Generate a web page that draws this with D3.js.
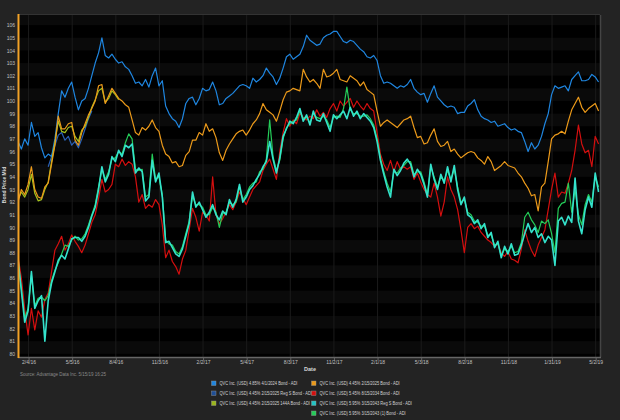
<!DOCTYPE html>
<html>
<head>
<meta charset="utf-8">
<script src="https://cdn.jsdelivr.net/npm/d3@7"></script>
<style>
  html, body { margin: 0; padding: 0; background: #232323; }
  svg { display: block; }
</style>
</head>
<body>
<div id="chart"></div>
<script>
// weekly prices, first point on 1/13/16
const START = '2016-01-13';
const X_END = '2019-05-11';
const Y_TICKS = d3.range(80, 107);
const X_TICKS = ['2/4/16', '5/5/16', '8/4/16', '11/3/16', '2/2/17', '5/4/17', '8/3/17',
  '11/2/17', '2/1/18', '5/3/18', '8/2/18', '11/1/18', '1/31/19', '5/2/19'];

const blue = [96.8, 96.2, 97.0, 96.5, 98.3, 97.2, 97.5, 96.3, 95.5, 95.8,
  95.6, 97.0, 99.0, 100.8, 100.3, 101.0, 101.5, 100.3, 99.3, 100.0,
  100.2, 101.0, 102.0, 103.0, 103.8, 105.0, 103.6, 103.4, 103.7, 103.3,
  103.0, 103.1, 102.7, 102.5, 102.0, 101.4, 101.5, 101.2, 101.7, 101.1,
  102.0, 102.6, 101.2, 101.6, 99.6, 99.0, 98.6, 98.4, 97.9, 98.6,
  99.8, 100.2, 100.3, 99.7, 100.2, 101.0, 100.8, 100.9, 101.5, 100.8,
  99.7, 99.8, 100.2, 100.4, 100.6, 100.9, 101.2, 101.3, 101.2, 101.0,
  101.8, 101.5, 101.7, 102.0, 102.6, 102.2, 101.9, 101.3, 101.8, 102.6,
  103.5, 103.7, 103.3, 103.5, 103.7, 104.3, 105.2, 104.8, 104.6, 104.4,
  104.5, 105.0, 105.2, 105.3, 105.5, 105.5, 105.1, 104.7, 104.6, 104.8,
  104.7, 104.4, 104.1, 103.9, 103.5, 103.4, 103.6, 103.2, 102.0, 101.4,
  101.5, 101.4, 101.2, 101.0, 101.2, 101.1, 101.3, 101.7, 101.0, 100.7,
  100.5, 100.6, 99.9, 100.6, 101.2, 100.3, 100.0, 99.7, 99.5, 99.6,
  99.5, 99.0, 99.1, 99.1, 99.6, 99.8, 100.1, 99.3, 98.8, 98.6,
  98.5, 98.3, 98.4, 98.0, 98.1, 98.2, 97.9, 97.7, 97.8, 97.6,
  97.5, 96.8, 96.0, 96.7, 96.2, 96.5, 97.2, 98.2, 99.0, 100.5,
  101.2, 101.0, 101.1, 101.2, 100.8, 101.7, 102.0, 102.3, 101.6, 101.6,
  101.7, 102.1, 101.9, 101.5];

// only shows in spring 2016, starts at week 9
const darkBlueFrom = 9;
const darkBlue = [94.8, 95.6, 96.5, 97.3, 97.5, 96.9, 97.2, 96.5, 96.8, 96.3, 97.0, 97.8, 98.6, 99.2];

const orange = [92.0, 93.0, 92.6, 93.4, 94.8, 93.0, 92.4, 92.3, 93.2, 93.5,
  95.0, 96.5, 98.8, 97.8, 97.8, 98.2, 98.3, 96.9, 96.5, 97.5,
  98.2, 98.9, 99.4, 100.0, 101.2, 101.3, 99.8, 100.4, 101.0, 100.6,
  100.2, 100.0, 99.7, 99.5, 98.5, 97.5, 97.3, 97.9, 97.7, 98.0,
  98.5, 97.9, 97.6, 96.5, 95.8, 95.6, 95.1, 95.2, 94.8, 94.9,
  95.7, 96.0, 96.9, 96.9, 97.5, 97.3, 98.2, 97.6, 97.8, 97.1,
  95.9, 95.3, 96.1, 96.6, 97.0, 97.4, 97.6, 97.7, 97.3, 97.7,
  98.2, 98.5, 99.0, 99.8, 99.3, 99.1, 98.9, 98.4, 99.2, 100.1,
  100.7, 100.8, 101.0, 100.9, 100.8, 102.5, 101.9, 101.5, 101.7, 101.4,
  101.0, 102.5, 101.9, 102.0, 102.2, 102.5, 101.7, 101.6, 101.5, 102.0,
  101.8, 101.6, 101.2, 101.5, 100.9, 100.7, 100.5, 99.2, 98.0, 98.3,
  98.5, 98.3, 98.1, 97.9, 98.2, 98.5, 98.6, 98.8, 97.9, 97.1,
  97.2, 96.6, 96.7, 97.3, 97.8, 96.8, 96.4, 96.5, 96.8, 96.0,
  96.2, 95.8, 95.5, 95.7, 95.9, 96.0, 95.9, 95.5, 95.3, 95.0,
  95.6, 95.2, 94.5, 94.7, 94.9, 95.2, 94.9, 94.8, 94.7, 94.3,
  94.0, 93.5, 93.1, 92.5, 92.6, 91.3, 93.2, 93.5, 95.2, 97.0,
  97.3, 97.4, 97.6, 97.4, 98.4, 99.3, 99.8, 100.3, 99.5, 99.1,
  99.4, 99.6, 99.8, 99.2];

const yellowGreenFrom = 0;
const yellowGreen = [92.2, 92.8, 92.4, 93.0, 94.2, 92.7, 92.1, 92.2, 93.0, 93.6,
  95.2, 96.7, 98.4, 97.6, 97.5, 97.9, 98.0, 97.2, 96.8, 97.7,
  98.0, 98.7, 99.5, 100.1, 100.8, 101.0, 99.9, 100.2, 100.8, 100.5,
  100.1];

const red = [87.7, 86.0, 83.5, 81.5, 83.6, 81.9, 83.4, 82.9, 84.3, 84.8,
  86.5, 88.2, 88.7, 89.3, 88.2, 88.7, 89.4, 88.9, 88.5, 88.0,
  88.6, 89.5, 90.4, 91.0, 92.3, 93.8, 92.8, 93.0, 93.4, 95.0,
  94.8, 95.4, 94.9, 95.2, 95.0, 94.0, 92.0, 92.6, 91.5, 91.8,
  91.6, 92.2, 91.8, 90.2, 87.6, 88.2, 87.3, 86.9, 86.3, 87.5,
  88.2, 89.8, 91.5, 90.8, 89.7, 91.2, 91.0, 90.5, 94.0, 91.0,
  90.3, 90.7, 91.2, 91.8, 91.4, 92.0, 92.8, 92.3, 91.8, 92.4,
  93.0, 93.3, 93.6, 94.5, 95.0, 95.4, 94.6, 93.8, 96.0, 97.5,
  98.6, 98.0, 98.5, 98.2, 99.0, 98.7, 98.5, 98.8, 98.6, 99.3,
  98.8, 99.1, 98.7, 99.4, 99.8, 99.2, 100.0, 99.6, 99.9, 100.2,
  99.5, 100.0, 99.6, 99.3, 99.8, 99.4, 99.2, 97.5, 95.8, 95.0,
  94.5, 95.3, 94.4, 95.2, 94.6, 94.8, 94.6, 94.8, 93.8, 94.3,
  93.6, 93.0, 92.6, 92.4, 93.5, 92.4, 90.9, 92.0, 94.0, 93.0,
  92.4, 91.4, 89.8, 88.0, 90.0, 90.3, 89.9, 90.1, 89.6, 89.3,
  89.0, 88.8, 88.5, 88.7, 88.0, 87.7, 88.1, 87.5, 87.4, 87.2,
  88.3, 89.8, 88.9, 88.2, 87.7, 88.6, 89.2, 89.8, 91.4, 93.0,
  94.3, 92.4, 92.8, 92.7, 93.5, 94.5, 96.1, 98.1, 96.6, 95.9,
  96.1, 94.8, 97.2, 96.6];

const cyan = [87.5, 85.0, 82.5, 83.4, 86.5, 83.6, 84.2, 84.6, 81.0, 84.2,
  85.6, 86.5, 87.4, 87.8, 87.5, 88.3, 89.1, 89.2, 89.2, 88.9,
  89.3, 90.0, 90.9, 91.6, 93.0, 94.8, 93.6, 94.2, 95.6, 95.2,
  96.1, 95.6, 96.5, 96.3, 96.6, 94.3, 94.7, 94.4, 92.1, 92.4,
  95.3, 93.6, 94.3, 92.4, 88.8, 88.9, 88.4, 87.9, 87.7, 88.3,
  89.3, 90.3, 92.8, 91.6, 92.0, 91.4, 90.8, 91.2, 91.8, 91.0,
  90.6, 91.3, 91.0, 92.2, 91.6, 92.2, 93.4, 92.0, 92.4, 93.0,
  93.3, 93.8, 94.2, 94.8, 95.2, 96.8, 95.4, 94.3, 95.5, 97.2,
  97.8, 98.4, 98.2, 98.7, 99.4, 98.4, 98.9, 98.1, 99.2, 98.5,
  98.4, 99.0, 98.3, 97.6, 98.9, 98.6, 98.9, 99.2, 98.6, 99.5,
  98.8, 99.2, 98.6, 99.0, 98.7, 98.4, 97.9, 96.8, 95.3, 94.2,
  93.2, 92.4, 94.6, 94.1, 94.5, 95.1, 95.4, 95.0, 94.0, 94.6,
  94.2, 93.4, 92.4, 95.0, 93.8, 93.0, 94.2, 93.5, 94.8, 93.6,
  94.9, 93.0, 91.8, 92.4, 91.0, 90.8, 90.3, 90.6, 89.9, 90.3,
  89.2, 89.6, 88.4, 88.9, 87.6, 88.5, 87.9, 88.7, 87.8, 87.9,
  88.6, 89.5, 90.3, 89.6, 90.0, 89.2, 89.5, 88.8, 89.3, 89.0,
  87.0, 90.5, 90.8, 90.2, 90.9, 90.4, 93.9, 90.5, 89.5, 91.4,
  92.4, 91.6, 94.3, 92.8];

const green = [87.3, 85.2, 82.8, 83.6, 86.2, 83.8, 84.4, 84.5, 84.2, 84.6,
  85.8, 86.6, 87.2, 87.9, 88.6, 88.5, 89.0, 89.3, 89.0, 89.1,
  89.5, 90.2, 91.0, 91.8, 93.2, 94.6, 93.8, 94.4, 95.4, 95.5,
  96.0, 95.8, 96.7, 97.4, 97.0, 94.6, 94.5, 94.6, 92.4, 92.6,
  95.8, 93.8, 94.0, 92.6, 89.0, 88.7, 88.6, 88.1, 87.9, 88.5,
  89.5, 90.5, 92.5, 91.8, 91.8, 91.6, 91.0, 91.0, 91.6, 91.2,
  90.0, 91.1, 91.2, 92.0, 91.8, 92.0, 93.2, 92.2, 92.6, 93.2,
  93.5, 93.6, 94.4, 94.6, 95.4, 98.5, 95.6, 94.5, 95.3, 97.0,
  97.9, 98.2, 98.4, 98.5, 99.2, 98.6, 98.7, 98.3, 99.0, 98.7,
  98.6, 98.8, 98.5, 97.9, 98.7, 98.8, 98.7, 99.4, 101.1, 99.3,
  99.0, 99.0, 98.8, 98.8, 98.9, 98.6, 98.1, 97.0, 95.5, 94.4,
  93.5, 92.8, 94.4, 94.3, 94.7, 94.9, 95.2, 95.2, 94.2, 94.4,
  94.4, 93.6, 92.6, 94.8, 94.0, 93.2, 94.0, 93.7, 94.5, 93.8,
  94.6, 93.2, 92.0, 92.2, 91.2, 91.0, 90.5, 90.4, 90.1, 90.1,
  89.4, 89.4, 88.6, 88.7, 87.8, 88.3, 88.1, 88.5, 88.0, 88.1,
  88.8, 90.8, 91.2, 90.6, 90.2, 89.6, 90.5, 90.3, 90.6, 89.5,
  88.0, 91.5, 91.9, 92.0, 93.5, 91.2, 93.0, 91.0, 90.2, 91.8,
  92.6, 92.0, 94.0, 93.2];

const SERIES = [
  { name: 'QVC Inc. (USD) 4.45% 2/15/2025 Reg S Bond - ADI', color: '#2a62b8', key: '#1f4f96', values: darkBlue, from: darkBlueFrom },
  { name: 'QVC Inc. (USD) 4.85% 4/1/2024 Bond - ADI', color: '#1f86e0', key: '#1f86e0', values: blue, from: 0 },
  { name: 'QVC Inc. (USD) 4.45% 2/15/2025 144A Bond - ADI', color: '#a4c21e', key: '#9bb61c', values: yellowGreen, from: yellowGreenFrom },
  { name: 'QVC Inc. (USD) 4.45% 2/15/2025 Bond - ADI', color: '#ec9a1a', key: '#ec9a1a', values: orange, from: 0 },
  { name: 'QVC Inc. (USD) 5.45% 8/15/2034 Bond - ADI', color: '#d40f0f', key: '#d40f0f', values: red, from: 0 },
  { name: 'QVC Inc. (USD) 5.95% 3/15/2043 (1) Bond - ADI', color: '#24cc58', key: '#24cc58', values: green, from: 0 },
  { name: 'QVC Inc. (USD) 5.95% 3/15/2043 Reg S Bond - ADI', color: '#34e2cc', key: '#22c4c4', values: cyan, from: 0 },
];
// legend layout order (two columns, as in the source)
const LEGEND_LEFT = [1, 0, 2];
const LEGEND_RIGHT = [3, 4, 6, 5];

const W = 620, H = 420;
const PLOT = { left: 18, right: 600, top: 15, bottom: 357 };
const FONT = '"Liberation Sans", Arial, sans-serif';

const parseTick = d3.timeParse('%m/%d/%y');
const start = d3.timeParse('%Y-%m-%d')(START);

const svg = d3.select('#chart').append('svg').attr('width', W).attr('height', H);
svg.append('rect').attr('width', W).attr('height', H).attr('fill', '#232323');

const x = d3.scaleTime()
  .domain([start, d3.timeParse('%Y-%m-%d')(X_END)])
  .range([PLOT.left, PLOT.right]);
const y = d3.scaleLinear()
  .domain([79.75, 106.8])
  .range([PLOT.bottom, PLOT.top]);

svg.append('defs').append('clipPath').attr('id', 'plot-clip')
  .append('rect')
  .attr('x', PLOT.left).attr('y', PLOT.top)
  .attr('width', PLOT.right - PLOT.left).attr('height', PLOT.bottom - PLOT.top);

// plot background, a lighter band every other unit
svg.append('rect')
  .attr('x', PLOT.left).attr('y', PLOT.top)
  .attr('width', PLOT.right - PLOT.left).attr('height', PLOT.bottom - PLOT.top)
  .attr('fill', '#000');
const bands = svg.append('g').attr('clip-path', 'url(#plot-clip)');
bands.selectAll('rect')
  .data(d3.range(78, 108).filter((v) => v % 2 === 0))
  .join('rect')
  .attr('x', PLOT.left)
  .attr('width', PLOT.right - PLOT.left)
  .attr('y', (d) => y(d + 1))
  .attr('height', (d) => y(d) - y(d + 1))
  .attr('fill', '#0a0a0a');

const tickDates = X_TICKS.map(parseTick);
svg.append('g').selectAll('line')
  .data(tickDates)
  .join('line')
  .attr('x1', (d) => x(d)).attr('x2', (d) => x(d))
  .attr('y1', PLOT.top).attr('y2', PLOT.bottom)
  .attr('stroke', '#1b1b1b')
  .attr('stroke-width', 1);

// lines
const linesG = svg.append('g').attr('clip-path', 'url(#plot-clip)');
SERIES.forEach((s) => {
  const pts = s.values.map((v, i) => ({ date: d3.timeDay.offset(start, 7 * (i + s.from)), value: v }));
  const line = d3.line()
    .defined((d) => d.value != null)
    .x((d) => x(d.date))
    .y((d) => y(d.value));
  linesG.append('path')
    .datum(pts)
    .attr('fill', 'none')
    .attr('stroke', s.color)
    .attr('stroke-width', s.values === cyan ? 1.6 : 1.2)
    .attr('stroke-linejoin', 'round')
    .attr('d', line);
});

// frame
svg.append('line')
  .attr('x1', PLOT.left).attr('x2', PLOT.right)
  .attr('y1', PLOT.top - 0.5).attr('y2', PLOT.top - 0.5)
  .attr('stroke', '#333');
svg.append('line')
  .attr('x1', PLOT.right + 0.5).attr('x2', PLOT.right + 0.5)
  .attr('y1', PLOT.top).attr('y2', PLOT.bottom)
  .attr('stroke', '#444').attr('stroke-width', 1.5);

// x axis
const xAxis = d3.axisBottom(x)
  .tickValues(tickDates)
  .tickSize(3)
  .tickFormat((d, i) => X_TICKS[i]);
const xAxisG = svg.append('g')
  .attr('transform', `translate(0,${PLOT.bottom + 0.5})`)
  .call(xAxis);
xAxisG.select('.domain').attr('stroke', '#666').attr('stroke-width', 1.6)
  .attr('d', `M${PLOT.left},0H${PLOT.right + 1}`);
xAxisG.selectAll('.tick line').attr('stroke', '#666');
xAxisG.selectAll('text')
  .attr('fill', '#c0c0c0')
  .attr('font-family', FONT)
  .attr('font-size', '5px')
  .attr('dy', '0.3em')
  .attr('y', 5);

// y axis
const yAxis = d3.axisLeft(y).tickValues(Y_TICKS).tickSize(0).tickPadding(3);
const yAxisG = svg.append('g')
  .attr('transform', `translate(${PLOT.left},0)`)
  .call(yAxis);
yAxisG.select('.domain').remove();
yAxisG.selectAll('text')
  .attr('fill', '#c0c0c0')
  .attr('font-family', FONT)
  .attr('font-size', '5px');

// left edge marker
svg.append('line')
  .attr('x1', PLOT.left + 0.5).attr('x2', PLOT.left + 0.5)
  .attr('y1', PLOT.top - 1).attr('y2', PLOT.bottom + 1)
  .attr('stroke', '#f2a227').attr('stroke-width', 2);

svg.append('text')
  .attr('transform', `translate(5.5,185) rotate(-90)`)
  .attr('text-anchor', 'middle')
  .attr('fill', '#d8d8d8')
  .attr('font-family', FONT)
  .attr('font-size', '5px')
  .attr('font-weight', 'bold')
  .text('Bond Price Mid');

svg.append('text')
  .attr('x', 310).attr('y', 371)
  .attr('text-anchor', 'middle')
  .attr('fill', '#d8d8d8')
  .attr('font-family', FONT)
  .attr('font-size', '5.5px')
  .attr('font-weight', 'bold')
  .text('Date');

svg.append('text')
  .attr('x', 20).attr('y', 376)
  .attr('fill', '#8a8a8a')
  .attr('font-family', FONT)
  .attr('font-size', '4.5px')
  .text('Source: Advantage Data Inc. 5/15/19 16:25');

// legend, text a bit condensed like the source font
function drawLegend(idx, x0) {
  const g = svg.append('g');
  const rows = g.selectAll('g')
    .data(idx.map((k) => SERIES[k]))
    .join('g')
    .attr('transform', (d, i) => `translate(${x0},${381 + i * 10})`);
  rows.append('rect')
    .attr('width', 4.5).attr('height', 4.5)
    .attr('fill', (d) => d.key)
    .attr('stroke', '#9a9a9a').attr('stroke-width', 0.4);
  rows.append('text')
    .attr('x', 8).attr('y', 4)
    .attr('fill', '#d4d4d4')
    .attr('font-family', FONT)
    .attr('font-size', '4.6px')
    .text((d) => d.name)
    .each(function () {
      const len = this.getComputedTextLength();
      d3.select(this).attr('textLength', len * 0.87).attr('lengthAdjust', 'spacingAndGlyphs');
    });
}
drawLegend(LEGEND_LEFT, 211.5);
drawLegend(LEGEND_RIGHT, 311.5);
</script>
</body>
</html>
